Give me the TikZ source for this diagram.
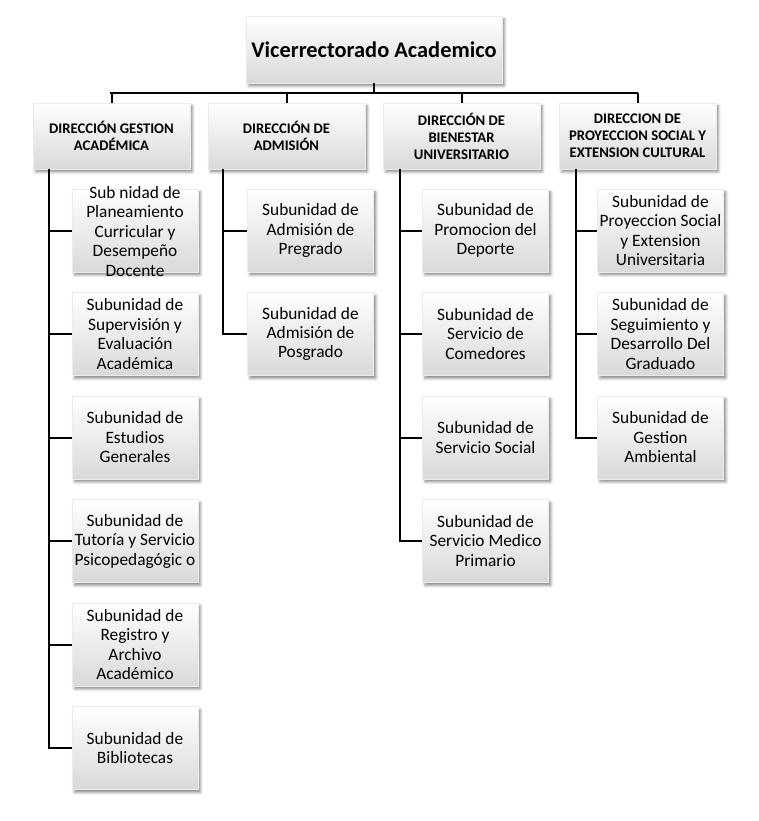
\documentclass[tikz,border=0pt]{standalone}
\usepackage{fontspec}
\setmainfont{Carlito}
\usetikzlibrary{shadows.blur,calc}
\begin{document}
\begin{tikzpicture}[x=0.75pt,y=-0.75pt,
  boxbase/.style={rectangle, draw=black!8, line width=0.3pt, top color=white, bottom color=black!15,
     blur shadow={shadow xshift=1.8pt, shadow yshift=-2.2pt, shadow blur radius=2pt, shadow opacity=45},
     align=center, inner sep=0pt},
  topbox/.style={boxbase, minimum width=192pt, minimum height=50.25pt, font=\fontsize{16.8}{20}\selectfont\bfseries},
  dirbox/.style={boxbase, minimum width=117.75pt, minimum height=49.5pt, font=\fontsize{11}{12.75}\selectfont\bfseries},
  subbox/.style={boxbase, minimum width=94.5pt, minimum height=62.25pt, font=\fontsize{13}{14.6}\selectfont},
  txt/.style={align=center, inner sep=0pt, font=\fontsize{13}{14.6}\selectfont},
  conn/.style={line width=1.5pt, black}
]
\useasboundingbox (0,0) rectangle (758,821);
\coordinate (bus) at (0,93);

\node[topbox] (top) at (374,49.5) {Vicerrectorado Academico};

\node[dirbox] (d1) at (111.5,136) {DIRECCIÓN GESTION\\ACADÉMICA};
\node[dirbox] (d2) at (286.5,136) {DIRECCIÓN DE\\ADMISIÓN};
\node[dirbox] (d3) at (461.5,136) {DIRECCIÓN DE\\BIENESTAR\\UNIVERSITARIO};
\node[dirbox] (d4) at (637.5,136) {DIRECCION DE\\PROYECCION SOCIAL Y\\EXTENSION CULTURAL};

% column 1
\node[subbox] (s11) at (135,230.5) {};
\node[txt] (s11t) at (135,231.5) {Sub nidad de\\Planeamiento\\Curricular y\\Desempeño\\Docente};
\node[subbox] (s12) at (135,334) {Subunidad de\\Supervisión y\\Evaluación\\Académica};
\node[subbox] (s13) at (135,437.5) {Subunidad de\\Estudios\\Generales};
\node[subbox] (s14) at (135,541) {Subunidad de\\Tutoría y Servicio\\Psicopedagógic o};
\node[subbox] (s15) at (135,644.5) {Subunidad de\\Registro y\\Archivo\\Académico};
\node[subbox] (s16) at (135,748) {Subunidad de\\Bibliotecas};

% column 2
\node[subbox] (s21) at (310.5,230.5) {Subunidad de\\Admisión de\\Pregrado};
\node[subbox] (s22) at (310.5,334) {Subunidad de\\Admisión de\\Posgrado};

% column 3
\node[subbox] (s31) at (485.5,230.5) {Subunidad de\\Promocion del\\Deporte};
\node[subbox] (s32) at (485.5,334) {Subunidad de\\Servicio de\\Comedores};
\node[subbox] (s33) at (485.5,437.5) {Subunidad de\\Servicio Social};
\node[subbox] (s34) at (485.5,541) {Subunidad de\\Servicio Medico\\Primario};

% column 4
\node[subbox] (s41) at (660.5,230.5) {Subunidad de\\Proyeccion Social\\y Extension\\Universitaria};
\node[subbox] (s42) at (660.5,334) {Subunidad de\\Seguimiento y\\Desarrollo Del\\Graduado};
\node[subbox] (s43) at (660.5,437.5) {Subunidad de\\Gestion\\Ambiental};

% connectors top level
\draw[conn] (top.south) -- (top.south |- bus);
\draw[conn] ([xshift=-1.1pt]d1.north |- bus) -- (d4.north |- bus);
\foreach \d in {d1,d2,d3,d4}{
  \draw[conn] (\d.north) -- (\d.north |- bus);
}

% trunks
\foreach \d/\list/\xs in {d1/{s11,s12,s13,s14,s15,s16}/12pt, d2/{s21,s22}/11.25pt, d3/{s31,s32,s33,s34}/13pt, d4/{s41,s42,s43}/12.75pt}{
  \foreach \s in \list {
    \draw[conn] ([xshift=\xs]\d.south west) |- (\s.west);
  }
}
\end{tikzpicture}
\end{document}
